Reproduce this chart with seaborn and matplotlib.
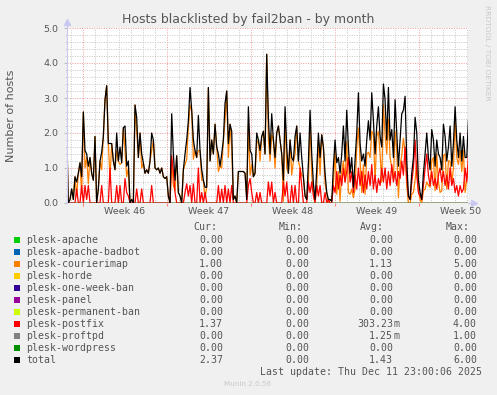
import numpy as np
import pandas as pd
import matplotlib
matplotlib.use("Agg")
import matplotlib.pyplot as plt
import seaborn as sns
from matplotlib.patches import Rectangle
from matplotlib.ticker import MultipleLocator

# ---------------- data ----------------
total = [
    2.1, 0.0, 0.1, 0.4, 0.1, 0.75, 0.6, 0.85, 1.15, 0.75,
    2.6, 1.5, 1.4, 1.05, 1.3, 0.85, 0.65, 1.9, 0.0, 0.4,
    1.2, 1.45, 1.9, 2.95, 3.35, 1.7, 1.7, 1.7, 1.2, 0.95,
    2.0, 1.2, 1.6, 1.15, 2.15, 2.2, 1.05, 1.2, 0.0, 0.1,
    0.0, 2.8, 2.45, 1.3, 2.0, 1.4, 1.15, 0.85, 0.95, 0.85,
    1.2, 2.0, 1.8, 1.0, 0.95, 1.0, 0.85, 1.0, 0.75, 0.7,
    0.75, 0.2, 0.0, 2.55, 1.4, 0.65, 1.35, 0.3, 0.2, 0.0,
    0.95, 1.4, 1.8, 2.35, 3.3, 2.65, 1.8, 1.5, 1.3, 2.5,
    1.5, 0.95, 0.65, 0.45, 0.45, 3.3, 1.2, 1.8, 1.4, 2.25,
    1.6, 1.4, 1.05, 1.4, 1.8, 2.85, 3.2, 1.7, 2.25, 2.05,
    0.1, 0.2, 0.0, 0.9, 0.9, 0.9, 0.9, 0.85, 0.1, 2.75,
    1.5, 1.4, 0.75, 0.85, 2.0, 1.8, 1.5, 1.9, 2.05, 1.4,
    4.25, 2.45, 1.4, 2.55, 1.8, 1.3, 2.0, 2.2, 1.8, 1.4,
    0.65, 2.75, 1.6, 0.85, 1.8, 1.3, 1.2, 1.9, 2.2, 1.2,
    2.0, 1.3, 0.75, 0.2, 0.1, 1.15, 2.65, 1.4, 0.55, 0.1,
    0.95, 2.0, 1.3, 1.95, 1.6, 0.85, 0.3, 0.1, 0.1, 0.05,
    1.05, 1.8, 1.15, 1.3, 0.85, 1.4, 2.2, 1.2, 2.65, 1.6,
    0.85, 1.3, 0.45, 1.2, 2.0, 3.15, 1.7, 1.2, 1.4, 1.05,
    1.8, 2.35, 1.8, 3.15, 2.35, 1.4, 2.2, 2.75, 1.9, 1.6,
    3.4, 2.95, 1.8, 3.3, 1.8, 2.1, 1.3, 2.95, 2.0, 1.05,
    1.8, 2.55, 2.65, 3.05, 1.2, 0.2, 0.1, 0.85, 1.3, 2.45,
    2.0, 0.65, 0.3, 0.1, 0.85, 1.4, 2.0, 1.3, 0.95, 2.1,
    1.8, 1.05, 1.8, 1.4, 1.3, 0.95, 2.25, 1.9, 1.2, 1.6,
    2.2, 1.05, 1.7, 2.75, 1.8, 1.3, 2.0, 1.2, 1.9, 1.3,
    1.3, 2.37,
]
postfix = [
    0, 0, 0, 0, 0, 0, 0.4, 0, 0, 0.5,
    0, 0.5, 0.1, 0.5, 0, 0, 0, 0, 0, 0,
    0, 0.5, 0, 0, 0, 0, 1.0, 0, 0, 0,
    0.5, 0, 0.5, 0, 0, 0.7, 0.3, 0.2, 0, 0,
    0, 0, 0.4, 0, 0, 0.4, 0, 0, 0, 0,
    0, 0.5, 0, 0, 0, 0, 0, 0, 0, 0,
    0, 0, 0, 1.35, 0.9, 0.3, 0, 0, 0, 0,
    0, 0.3, 0.55, 0.2, 0.5, 0, 0.55, 0, 0, 1.0,
    0, 0.3, 0, 0.3, 0, 0, 0, 0, 0, 0,
    0, 0.5, 0, 0.4, 0, 0.5, 0, 0.4, 0, 0.5,
    0, 0, 0, 0, 0, 0, 0, 0, 0, 0.5,
    0.7, 0.3, 0, 0, 0.3, 0, 0.3, 0, 0, 0,
    0, 0.6, 0.2, 0.6, 0, 0.3, 0, 0, 0, 0,
    0.6, 0.2, 0.6, 0, 0, 0.5, 0, 0.5, 0, 0,
    1.0, 0.5, 0, 0, 0, 0.6, 0.3, 0.6, 0.2, 0,
    0.5, 0.2, 0.5, 0, 0, 0.3, 0, 0.1, 0, 0,
    0.5, 0.3, 0.9, 0.4, 0.8, 0.5, 1.0, 0.6, 0.9, 1.3,
    0.6, 0.9, 0.3, 0.8, 0.4, 1.0, 0.5, 0.9, 0.3, 0.8,
    0.4, 0.9, 0.5, 1.1, 0.4, 0.8, 0.3, 0.7, 0.5, 1.0,
    0.6, 1.0, 0.4, 0.9, 0.5, 1.1, 0.6, 0.9, 0.5, 0.9,
    0.7, 1.2, 0.8, 1.6, 0.7, 0.2, 0.1, 0.6, 1.0, 1.8,
    0.8, 0.3, 0.2, 0.1, 0.5, 1.0, 1.4, 0.8, 0.5, 0.9,
    0.5, 0.7, 0.4, 0.8, 1.0, 0.6, 0.9, 0.5, 0.8, 0.4,
    1.0, 0.5, 0.7, 0.3, 0.5, 0.2, 0.5, 0.3, 0.4, 1.0,
    0.6, 1.37,
]

series_names = ["plesk-apache", "plesk-apache-badbot", "plesk-courierimap",
                "plesk-horde", "plesk-one-week-ban", "plesk-panel",
                "plesk-permanent-ban", "plesk-postfix", "plesk-proftpd",
                "plesk-wordpress", "total"]
series_colors = ["#00CC00", "#0066B3", "#FF8000", "#FFCC00", "#330099",
                 "#990099", "#CCFF00", "#FF0000", "#808080", "#008F00",
                 "#000000"]
cur_vals = ["0.00", "0.00", "1.00", "0.00", "0.00", "0.00", "0.00", "1.37", "0.00", "0.00", "2.37"]
min_vals = ["0.00"] * 11
avg_vals = ["0.00", "0.00", "1.13", "0.00", "0.00", "0.00", "0.00", "303.23m", "1.25m", "0.00", "1.43"]
max_vals = ["0.00", "0.00", "5.00", "0.00", "0.00", "0.00", "0.00", "4.00", "1.00", "0.00", "6.00"]

week_labels = ["Week 46", "Week 47", "Week 48", "Week 49", "Week 50"]
week_starts = [0, 7, 14, 21, 28]          # days, Monday 00:00 of each week
title = "Hosts blacklisted by fail2ban - by month"
ylabel = "Number of hosts"
last_update = "Last update: Thu Dec 11 23:00:06 2025"

# time axis (days relative to start of week 46), one sample per 1/7.2 day
start_day = -1.336
step_day = 1 / 7.2

# ---------------- build frame ----------------
n = len(total)
t = start_day + step_day * np.arange(n)
tot = np.array(total, dtype=float)
pf = np.array(postfix, dtype=float)
courier = np.clip(tot - pf, 0, None)
zeros = np.zeros(n)
values = {name: zeros for name in series_names}
values["plesk-courierimap"] = courier
values["plesk-postfix"] = pf
values["total"] = tot

df = pd.concat([pd.DataFrame({"t": t, "v": values[nm], "s": nm}) for nm in series_names],
               ignore_index=True)

# ---------------- figure ----------------
W, H = 497, 395
fig = plt.figure(figsize=(W / 100, H / 100), dpi=100, facecolor="#F0F0F0")
L, R, T, B = 67, 468, 28, 203
ax = fig.add_axes([L / W, 1 - B / H, (R - L) / W, (B - T) / H])
ax.set_facecolor("#FFFFFF")

txtc = "#555555"

sns.lineplot(data=df, x="t", y="v", hue="s", hue_order=series_names,
             palette=dict(zip(series_names, series_colors)), estimator=None,
             sort=False, legend=False, linewidth=0.9, ax=ax)

ax.set_xlim(-1.308, 32.1)
ax.set_ylim(0, 5)
ax.set_xlabel("")
ax.set_ylabel("")

ax.set_xticks(week_starts)
ax.xaxis.set_minor_locator(MultipleLocator(1))
ax.yaxis.set_major_locator(MultipleLocator(1))
ax.yaxis.set_minor_locator(MultipleLocator(0.2))
ax.set_yticks(np.arange(0, 6, 1))
ax.set_yticklabels([f"{v:.1f}" for v in np.arange(0, 6, 1)])

ax.tick_params(axis="x", which="major", length=2.5, color="#FF8080", labelbottom=False, width=0.8)
ax.tick_params(axis="x", which="minor", length=0)
ax.tick_params(axis="y", which="major", length=2, color="#C0C0C0", labelsize=6.8,
               labelcolor=txtc, pad=4)
ax.tick_params(axis="y", which="minor", length=1.5, color="#D0D0D0")

ax.set_axisbelow(True)
ax.grid(which="major", color="#EE9A9A", linestyle=(0, (1, 1.5)), linewidth=0.7)
ax.grid(which="minor", color="#C4C4C4", linestyle=(0, (1, 1.5)), linewidth=0.7)

for s in ["top", "right", "bottom"]:
    ax.spines[s].set_visible(False)
ax.spines["left"].set_color("#C8C8F0")
ax.spines["left"].set_linewidth(0.8)

axc = "#C8C8F0"
ax.plot([0, 0], [1, 1.03], transform=ax.transAxes, color=axc, lw=0.8, clip_on=False)
ax.plot([0], [1.035], marker="^", ms=4, color=axc, transform=ax.transAxes, clip_on=False)
ax.plot([1, 1.01], [0, 0], transform=ax.transAxes, color=axc, lw=0.8, clip_on=False)
ax.plot([1.014], [0], marker=">", ms=4, color=axc, transform=ax.transAxes, clip_on=False)

for ws, lab in zip(week_starts, week_labels):
    ax.text(ws + 3.5, -(212 - B) / (B - T), lab, transform=ax.get_xaxis_transform(),
            ha="center", va="center", fontsize=6.8, color=txtc)

def fx(x):
    return x / W

def fy(y):
    return 1 - y / H

fig.text(fx(248), fy(19), title, ha="center", va="center", fontsize=9, color=txtc)
fig.text(fx(11), fy(115.5), ylabel, rotation=90, ha="center", va="center",
         fontsize=8, color=txtc)
fig.text(fx(487), fy(53), "RRDTOOL / TOBI OETIKER", rotation=270, ha="center",
         va="center", fontsize=5.4, color="#C8C8C8")

mono = "DejaVu Sans Mono"
fs = 7.1
hy = 227.3
for xr, lab in zip([217, 303, 384, 470], ["Cur:", "Min:", "Avg:", "Max:"]):
    fig.text(fx(xr), fy(hy), lab, ha="right", va="center", family=mono, fontsize=fs, color=txtc)

for k, nm in enumerate(series_names):
    y = 239.7 + 12 * k
    fig.patches.append(Rectangle((fx(14), fy(y + 3)), 6 / W, 6 / H, transform=fig.transFigure,
                                 facecolor=series_colors[k], edgecolor="none"))
    fig.text(fx(26), fy(y), nm, ha="left", va="center", family=mono, fontsize=fs, color=txtc)
    fig.text(fx(223), fy(y), cur_vals[k], ha="right", va="center", family=mono, fontsize=fs, color=txtc)
    fig.text(fx(309), fy(y), min_vals[k], ha="right", va="center", family=mono, fontsize=fs, color=txtc)
    a = avg_vals[k]
    if a.endswith("m"):
        fig.text(fx(393), fy(y), a[:-1], ha="right", va="center", family=mono, fontsize=fs, color=txtc)
        fig.text(fx(393), fy(y), "m", ha="left", va="center", family=mono, fontsize=fs, color=txtc)
    else:
        fig.text(fx(393), fy(y), a, ha="right", va="center", family=mono, fontsize=fs, color=txtc)
    fig.text(fx(477), fy(y), max_vals[k], ha="right", va="center", family=mono, fontsize=fs, color=txtc)

fig.text(fx(482), fy(372.3), last_update, ha="right", va="center", family=mono,
         fontsize=fs, color=txtc)
fig.text(fx(248), fy(384), "Munin 2.0.56", ha="center", va="center", fontsize=5.2,
         color="#C8C8C8")

fig.savefig("out.png", dpi=100, facecolor=fig.get_facecolor())
